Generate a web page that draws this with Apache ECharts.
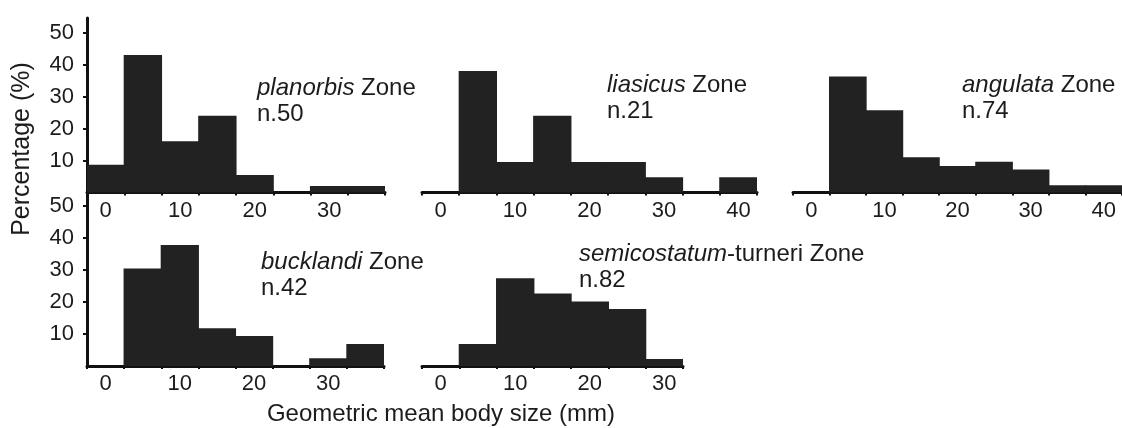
<!DOCTYPE html>
<html>
<head>
<meta charset="utf-8">
<script src="https://cdn.jsdelivr.net/npm/echarts@6/dist/echarts.min.js"></script>
<style>
  html, body { margin: 0; padding: 0; background: #fff; }
  #chart { width: 1122px; height: 428px; }
</style>
</head>
<body>
<div id="chart"></div>
<script>
// Size classes (mm), bins centred every 5 mm
const binsTo35 = ['0', '5', '10', '15', '20', '25', '30', '35'];
const binsTo40 = ['0', '5', '10', '15', '20', '25', '30', '35', '40'];
const binsTo30 = ['0', '5', '10', '15', '20', '25', '30'];

// Percentage of specimens per size class, one array per ammonite zone
const planorbis = [8.7, 43, 16, 24, 5.5, 0, 2, 2];
const liasicus = [0, 38, 9.5, 24, 9.5, 9.5, 4.8, 0, 4.8];
const angulata = [0, 36.3, 25.7, 11, 8.3, 9.6, 7.2, 2.3, 2.3];
const bucklandi = [0, 30.5, 37.8, 11.8, 9.4, 0, 2.4, 6.9];
const semicostatum = [0, 6.9, 27.4, 22.7, 20.2, 17.8, 2.2];

// Zone names and sample sizes
const zoneNames = ['planorbis', 'liasicus', 'angulata', 'bucklandi', 'semicostatum'];
const zoneSuffix = [' Zone', ' Zone', ' Zone', ' Zone', '-turneri Zone'];
const sampleSizes = [50, 21, 74, 42, 82];

const yTicks = [10, 20, 30, 40, 50];

const FONT = '"Liberation Sans", Arial, Helvetica, sans-serif';
const INK = '#1c1c1c';
const BAR = '#222';

const panels = [
  { cats: binsTo35, data: planorbis, left: 87, top: 18, width: 298, yAxis: true, note: [257, 75] },
  { cats: binsTo40, data: liasicus, left: 422, top: 18, width: 335, yAxis: false, note: [607, 72] },
  { cats: binsTo40, data: angulata, left: 793, top: 18, width: 335, yAxis: false, note: [962, 72] },
  { cats: binsTo35, data: bucklandi, left: 87, top: 191.5, width: 297, yAxis: true, note: [261, 249] },
  { cats: binsTo30, data: semicostatum, left: 422, top: 191.5, width: 261, yAxis: false, note: [579, 241] }
];

const grids = [], xAxes = [], yAxes = [], series = [], titles = [];

panels.forEach((p, i) => {
  grids.push({ left: p.left, top: p.top, width: p.width, height: 174.5 });
  xAxes.push({
    type: 'category',
    gridIndex: i,
    data: p.cats,
    boundaryGap: true,
    axisLine: { show: true, lineStyle: { color: '#111', width: 3 } },
    axisTick: { show: true, interval: 0, length: 3, lineStyle: { color: '#111', width: 2 } },
    axisLabel: {
      interval: 1,
      margin: 7,
      color: INK,
      fontFamily: FONT,
      fontSize: 22
    },
    splitLine: { show: false }
  });
  yAxes.push({
    type: 'value',
    gridIndex: i,
    min: 0,
    max: 54.55,
    show: p.yAxis,
    axisLine: { show: true, lineStyle: { color: '#111', width: 3 } },
    axisTick: { show: true, length: 4, customValues: yTicks, lineStyle: { color: '#111', width: 2 } },
    axisLabel: {
      customValues: yTicks,
      margin: 13,
      color: INK,
      fontFamily: FONT,
      fontSize: 22
    },
    splitLine: { show: false }
  });
  series.push({
    type: 'bar',
    xAxisIndex: i,
    yAxisIndex: i,
    data: p.data,
    // slightly wider than the band so neighbouring bars close up without hairline seams
    barWidth: '103%',
    itemStyle: { color: BAR },
    silent: true
  });
  titles.push({
    left: p.note[0],
    top: p.note[1],
    padding: 0,
    text: '{i|' + zoneNames[i] + '}{r|' + zoneSuffix[i] + '}\n{r|n.' + sampleSizes[i] + '}',
    textStyle: {
      fontWeight: 'normal',
      rich: {
        i: { fontStyle: 'italic', fontWeight: 'normal', fontFamily: FONT, fontSize: 24, color: INK, lineHeight: 26 },
        r: { fontWeight: 'normal', fontFamily: FONT, fontSize: 24, color: INK, lineHeight: 26 }
      }
    }
  });
});

const chart = echarts.init(document.getElementById('chart'), null, { renderer: 'canvas' });
chart.setOption({
  backgroundColor: '#fff',
  animation: false,
  title: titles,
  grid: grids,
  xAxis: xAxes,
  yAxis: yAxes,
  series: series,
  graphic: [
    {
      type: 'text',
      x: 22,
      y: 149,
      rotation: Math.PI / 2,
      style: {
        text: 'Percentage (%)',
        fontFamily: FONT,
        fontSize: 25,
        fill: INK,
        align: 'center',
        verticalAlign: 'middle'
      }
    },
    {
      type: 'text',
      x: 441,
      y: 414,
      style: {
        text: 'Geometric mean body size (mm)',
        fontFamily: FONT,
        fontSize: 24,
        fill: INK,
        align: 'center',
        verticalAlign: 'middle'
      }
    }
  ]
});
</script>
</body>
</html>
